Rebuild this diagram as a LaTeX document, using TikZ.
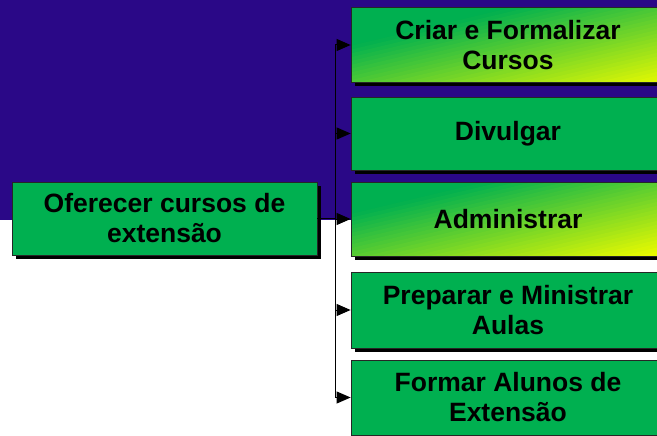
\documentclass[tikz,border=0pt]{standalone}
\usepackage{fontspec}
\setmainfont{Liberation Sans}
\usetikzlibrary{arrows.meta,shadows}
\definecolor{bgblue}{RGB}{42,8,135}
\definecolor{ggreen}{RGB}{0,176,80}
\definecolor{gyel}{RGB}{232,250,0}
\newcommand\gradstrips{%
  \foreach \k in {0,...,40}{%
    \pgfmathsetmacro\v{-74+148*\k/40}%
    \pgfmathsetmacro\t{\k/40}%
    \ifdim\t pt<0.26pt \def\col{ggreen}\else
      \pgfmathsetmacro\p{(\t-0.26)/0.74*100}\edef\col{gyel!\p!ggreen}\fi
    \fill[\col] ({\v*sin(13.4)-400*cos(13.4)},{\v*cos(13.4)+400*sin(13.4)})
      -- ++({800*cos(13.4)},{-800*sin(13.4)}) -- ++({200*sin(13.4)},{200*cos(13.4)})
      -- ++({-800*cos(13.4)},{800*sin(13.4)}) -- cycle;
  }}
\begin{document}
\begin{tikzpicture}[x=1pt,y=-1pt,
  box/.style={draw=black!85, line width=0.8pt, fill=ggreen, minimum height=75pt,
    inner sep=2pt, align=center, font=\bfseries\fontsize{26.5}{30}\selectfont,
    general shadow={fill=black, shadow xshift=4pt, shadow yshift=-4pt}},
  rbox/.style={box, minimum width=314pt},
  gbox/.style={rbox, path picture={\begin{scope}[shift={(path picture bounding box.center)}]\gradstrips\end{scope}}},
  conn/.style={line width=1pt, black},
  arr/.style={conn, -{Triangle[length=14pt,width=12pt]}}]
\useasboundingbox (0,0) rectangle (657,436);
\clip (0,0) rectangle (657,436);
\fill[bgblue] (0,0) rectangle (657,220);
\node[box, minimum width=305pt, minimum height=73pt] (L) at (164.5,218.5) {Oferecer cursos de\\extensão};
\node[gbox] (b1) at (508,45) {Criar e Formalizar\\Cursos};
\node[rbox, minimum height=73pt] (b2) at (508,133.5) {Divulgar};
\node[gbox, minimum height=74pt] (b3) at (508,219) {Administrar};
\node[rbox, minimum height=76pt] (b4) at (508,310) {Preparar e Ministrar\\Aulas};
\node[rbox] (b5) at (508,397.5) {Formar Alunos de\\Extensão};
\coordinate (bus) at (335,0);
\draw[conn] (L.east) -- (L.east -| bus);
\draw[conn] (b1.west -| bus) -- (b5.west -| bus);
\foreach \b in {b1,b2,b3,b4,b5}
  \draw[arr] (\b.west -| bus) -- (\b.west);
\end{tikzpicture}
\end{document}
